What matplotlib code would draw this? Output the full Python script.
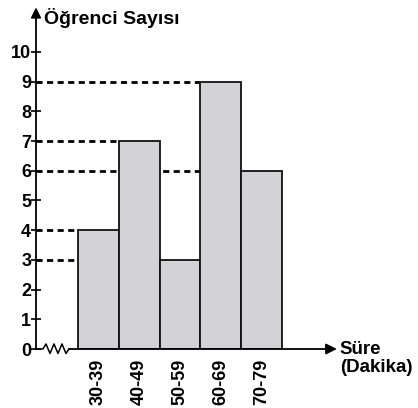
import matplotlib
matplotlib.use('Agg')
import matplotlib.pyplot as plt
import numpy as np

categories = ['30-39', '40-49', '50-59', '60-69', '70-79']
counts = [4, 7, 3, 9, 6]
y_ticks = list(range(0, 11))
y_title = 'Öğrenci Sayısı'
x_title = 'Süre\n(Dakika)'

plt.rcParams['font.family'] = ['Liberation Sans', 'DejaVu Sans']

fig = plt.figure(figsize=(4.18, 4.08), dpi=100)
ax = fig.add_axes([0.0861, 0.1446, 0.715, 0.83])
x0, x1 = -1.53, 5.8
ax.set_xlim(x0, x1)
ax.set_ylim(0, 11.4)
for s in ax.spines.values():
    s.set_visible(False)

pos = np.arange(len(categories))
# dashed guide lines from the y axis to each bar
for i, v in zip(pos, counts):
    ax.plot([x0, i - 0.5], [v, v], color='black', lw=2, ls=(0, (2.2, 1.6)),
            zorder=1, clip_on=False)

ax.bar(pos, counts, width=1.0, color='#d3d3d5', edgecolor='#111111',
       linewidth=1.3, zorder=2)

# y axis with arrow
ax.annotate('', xy=(x0, 11.5), xytext=(x0, 0),
            arrowprops=dict(arrowstyle='-|>', color='black', lw=1.3,
                            mutation_scale=15, shrinkA=0, shrinkB=0),
            annotation_clip=False)
# x axis with break zigzag and arrow
zx = x0 + np.array([0, 7, 10, 14, 18, 22, 26, 30, 33]) / 40.8
zy = np.array([0, 0, 0.17, -0.15, 0.17, -0.15, 0.17, -0.15, 0])
ax.plot(zx, zy, color='black', lw=1.1, clip_on=False, zorder=3)
ax.annotate('', xy=(x1 + 0.05, 0), xytext=(zx[-1], 0),
            arrowprops=dict(arrowstyle='-|>', color='black', lw=1.3,
                            mutation_scale=16, shrinkA=0, shrinkB=0),
            annotation_clip=False)

ax.set_yticks(y_ticks)
ax.set_yticklabels([str(t) for t in y_ticks], fontsize=13, fontweight='bold')
ax.tick_params(axis='y', direction='inout', length=7, width=1.2, pad=0)
ax.set_xticks(pos)
ax.set_xticklabels(categories, rotation=90, fontsize=13, fontweight='bold')
ax.tick_params(axis='x', length=0, pad=7)

ax.text(x0 + 0.2, 11.15, y_title, fontsize=14, fontweight='bold',
        va='center', ha='left', clip_on=False)
ax.text(x1 + 0.12, 0.27, x_title, fontsize=13.5, fontweight='bold',
        va='top', ha='left', clip_on=False, linespacing=1.05)

fig.savefig('out.png', dpi=100)
